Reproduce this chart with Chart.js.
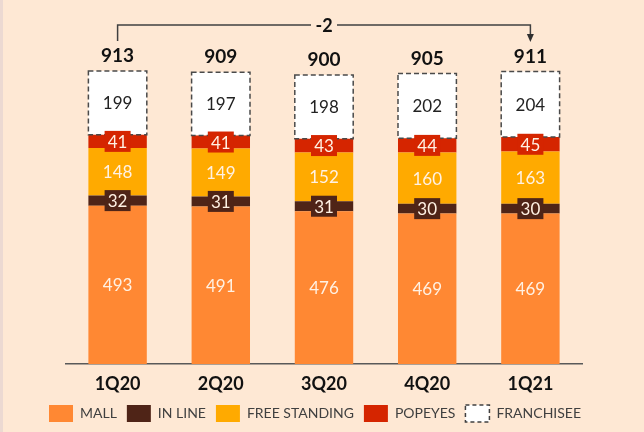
<!DOCTYPE html>
<html>
<head>
<meta charset="utf-8">
<script src="https://cdn.jsdelivr.net/npm/chart.js@4.4.1/dist/chart.umd.min.js"></script>
<style>
  html, body { margin: 0; padding: 0; background: #fee8d4; }
  #wrap { width: 641px; height: 432px; border-left: 3px solid #ecd9d2; background: #fee8d4; }
</style>
</head>
<body>
<div id="wrap"><canvas id="storesChart" width="641" height="432"></canvas></div>
<script>
const quarters = ['1Q20', '2Q20', '3Q20', '4Q20', '1Q21'];
const mall = [493, 491, 476, 469, 469];
const inLine = [32, 31, 31, 30, 30];
const freeStanding = [148, 149, 152, 160, 163];
const popeyes = [41, 41, 43, 44, 45];
const franchisee = [199, 197, 198, 202, 204];

const labelFont = '"Lato", "DejaVu Sans", sans-serif';
const lightText = '#fff1e3';

// labels, boxed labels on thin segments, dashed franchisee boxes, totals and the bracket
const barLabels = {
  id: 'barLabels',
  afterDatasetsDraw(chart) {
    const ctx = chart.ctx;
    ctx.save();
    // dashed outline round the franchisee segment
    const fMeta = chart.getDatasetMeta(4);
    ctx.strokeStyle = '#4a4a4a';
    ctx.lineWidth = 1.5;
    ctx.setLineDash([5, 3]);
    fMeta.data.forEach(bar => {
      ctx.strokeRect(bar.x - bar.width / 2, bar.y, bar.width, bar.base - bar.y);
    });
    ctx.setLineDash([]);

    ctx.textAlign = 'center';
    ctx.textBaseline = 'middle';
    chart.data.datasets.forEach((ds, di) => {
      const meta = chart.getDatasetMeta(di);
      meta.data.forEach((bar, i) => {
        const cy = (bar.y + bar.base) / 2;
        if (di === 1 || di === 3) {
          ctx.fillStyle = ds.backgroundColor;
          ctx.fillRect(bar.x - 13, cy - 10.5, 26, 21);
        }
        ctx.fillStyle = di === 4 ? '#222222' : lightText;
        ctx.font = '17px ' + labelFont;
        ctx.fillText(ds.data[i], bar.x, cy + 1);
      });
    });

    // totals above each bar
    const totals = quarters.map((q, i) => chart.data.datasets.reduce((s, ds) => s + ds.data[i], 0));
    ctx.fillStyle = '#111111';
    ctx.font = 'bold 19px ' + labelFont;
    fMeta.data.forEach((bar, i) => {
      ctx.fillText(totals[i], bar.x, bar.y - 15);
    });

    // bracket from first to last quarter
    const x1 = fMeta.data[0].x;
    const x2 = fMeta.data[fMeta.data.length - 1].x;
    const ly = 25;
    const mid = (x1 + x2) / 2;
    ctx.strokeStyle = '#404040';
    ctx.lineWidth = 1.5;
    ctx.beginPath();
    ctx.moveTo(x1, 41);
    ctx.lineTo(x1, ly);
    ctx.lineTo(mid - 13, ly);
    ctx.moveTo(mid + 13, ly);
    ctx.lineTo(x2, ly);
    ctx.lineTo(x2, 35);
    ctx.stroke();
    ctx.fillStyle = '#303030';
    ctx.beginPath();
    ctx.moveTo(x2 - 3.5, 34);
    ctx.lineTo(x2 + 3.5, 34);
    ctx.lineTo(x2, 42);
    ctx.closePath();
    ctx.fill();
    ctx.fillStyle = '#111111';
    ctx.font = 'bold 18px ' + labelFont;
    ctx.fillText(totals[totals.length - 1] - totals[0], mid, ly + 1);
    ctx.restore();
  }
};

const ctx = document.getElementById('storesChart').getContext('2d');
const storesChart = new Chart(ctx, {
  type: 'bar',
  data: {
    labels: quarters,
    datasets: [
      { label: 'MALL', data: mall, backgroundColor: '#ff8833' },
      { label: 'IN LINE', data: inLine, backgroundColor: '#4f2417' },
      { label: 'FREE STANDING', data: freeStanding, backgroundColor: '#ffaa00' },
      { label: 'POPEYES', data: popeyes, backgroundColor: '#d52500' },
      { label: 'FRANCHISEE', data: franchisee, backgroundColor: '#ffffff' }
    ]
  },
  options: {
    responsive: false,
    animation: false,
    layout: { padding: { top: 43, left: 0, right: 17, bottom: 0 } },
    datasets: {
      bar: { categoryPercentage: 1, barPercentage: 0.566, borderWidth: 0 }
    },
    plugins: {
      tooltip: { enabled: false },
      legend: {
        position: 'bottom',
        labels: {
          boxWidth: 24,
          boxHeight: 17,
          padding: 10,
          color: '#404040',
          font: { family: labelFont, size: 14 },
          generateLabels(chart) {
            const items = Chart.defaults.plugins.legend.labels.generateLabels(chart);
            items.forEach(it => {
              if (it.datasetIndex === 4) {
                it.strokeStyle = '#404040';
                it.lineWidth = 1.5;
                it.lineDash = [4, 3];
              } else {
                it.lineWidth = 0;
              }
            });
            return items;
          }
        }
      }
    },
    scales: {
      x: {
        stacked: true,
        grid: { display: false, drawTicks: false },
        border: { display: true, color: '#595959', width: 1.5 },
        ticks: { color: '#111111', padding: 9, font: { family: labelFont, size: 18, weight: 'bold' } },
        afterFit(scale) { scale.height = 31; }
      },
      y: {
        stacked: true,
        min: 0,
        max: 1000,
        grid: { display: false, drawTicks: false },
        border: { display: false },
        ticks: { display: false },
        afterFit(scale) { scale.width = 63; }
      },
      y2: {
        position: 'right',
        min: 0,
        max: 1000,
        grid: { display: false, drawTicks: false },
        border: { display: false },
        ticks: { display: false },
        afterFit(scale) { scale.width = 45; }
      }
    }
  },
  plugins: [barLabels]
});
</script>
</body>
</html>
